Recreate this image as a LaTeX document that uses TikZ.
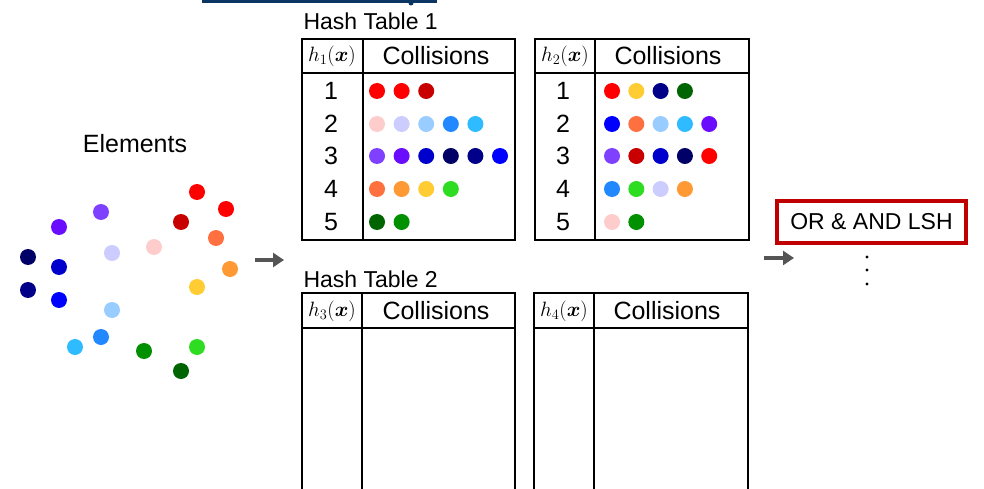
\documentclass[tikz,border=0pt]{standalone}
\usepackage{amsmath}
\usepackage{fontspec}
\setmainfont{Liberation Sans}
\usepackage{xcolor}
\usetikzlibrary{arrows.meta}

% dot colours
\definecolor{cRed}{HTML}{FF0000}
\definecolor{cDarkRed}{HTML}{C80000}
\definecolor{cPink}{HTML}{FFCCCC}
\definecolor{cLavender}{HTML}{CCCCFF}
\definecolor{cLightBlue}{HTML}{99CCFF}
\definecolor{cDodger}{HTML}{2288FF}
\definecolor{cSky}{HTML}{2EBBFF}
\definecolor{cPurple}{HTML}{7F40FF}
\definecolor{cViolet}{HTML}{6A0DFF}
\definecolor{cMedBlue}{HTML}{0000CC}
\definecolor{cNavy}{HTML}{000066}
\definecolor{cNavyB}{HTML}{000088}
\definecolor{cBlue}{HTML}{0000FF}
\definecolor{cCoral}{HTML}{FF7040}
\definecolor{cOrange}{HTML}{FF9933}
\definecolor{cGold}{HTML}{FFCC33}
\definecolor{cLime}{HTML}{2EDD22}
\definecolor{cDkGreen}{HTML}{006400}
\definecolor{cGreen}{HTML}{009000}
\definecolor{boxRed}{HTML}{C00000}
\definecolor{arrowGray}{HTML}{555555}
\definecolor{titleBlue}{HTML}{0B3563}

\tikzset{
    tbl/.style={line width=2pt},
    bigtext/.style={font=\fontsize{23}{23}\selectfont},
    headtext/.style={font=\fontsize{25}{25}\selectfont},
    mathlbl/.style={font=\fontsize{22}{22}\selectfont},
    flow/.style={arrowGray, line width=4pt, -{Triangle[length=11pt, width=14pt]}},
}

\begin{document}
\begin{tikzpicture}[x=1pt, y=-1pt]
    \useasboundingbox (0,0) rectangle (984,489);

    \fill[titleBlue] (202,-3) rectangle (437,3);
    \fill[titleBlue] (411,3) circle (2.5pt);

    % elements
    \node[headtext] (elements) at (135,144) {Elements};
    \foreach \x/\y/\c in {197/192/cRed, 226/209/cRed, 181/222/cDarkRed, 216/238/cCoral,
                          230/269/cOrange, 197/287/cGold, 154/247/cPink, 112/253/cLavender,
                          101/212/cPurple, 59/227/cViolet, 28/257/cNavy, 59/267/cMedBlue,
                          28/290/cNavyB, 59/300/cBlue, 112/310/cLightBlue, 101/337/cDodger,
                          75/347/cSky, 144/351/cGreen, 197/347/cLime, 181/371/cDkGreen}
        \fill[\c] (\x,\y) circle (8pt);

    \coordinate (a1) at (255,260);
    \coordinate (b1) at (284,260);
    \draw[flow] (a1) -- (b1);

    % hash table 1
    \node[bigtext, anchor=west] (ht1) at (300,21) {Hash Table 1};
    \draw[tbl] (302,39) rectangle (515,240);
    \draw[tbl] (302,73) -- (515,73);
    \draw[tbl] (363,39) -- (363,240);
    \node[mathlbl] (h1) at (332,56) {$h_1(\boldsymbol{x})$};
    \node[headtext] (c1) at (436,56) {Collisions};

    \draw[tbl] (535,39) rectangle (749,240);
    \draw[tbl] (535,73) -- (749,73);
    \draw[tbl] (595,39) -- (595,240);
    \node[mathlbl] (h2) at (565,56) {$h_2(\boldsymbol{x})$};
    \node[headtext] (c2) at (668,56) {Collisions};

    \foreach \n/\y in {1/91, 2/124, 3/156, 4/189, 5/222} {
        \node[headtext] (r1\n) at (331,\y) {\n};
        \node[headtext] (r2\n) at (563,\y) {\n};
    }

    \foreach \y/\cols in {91/{cRed,cRed,cDarkRed},
                          124/{cPink,cLavender,cLightBlue,cDodger,cSky},
                          156/{cPurple,cViolet,cMedBlue,cNavy,cNavyB,cBlue},
                          189/{cCoral,cOrange,cGold,cLime},
                          222/{cDkGreen,cGreen}}
        \foreach \c [count=\i from 0] in \cols
            \fill[\c] (377+24.6*\i,\y) circle (8pt);

    \foreach \y/\cols in {91/{cRed,cGold,cNavyB,cDkGreen},
                          124/{cBlue,cCoral,cLightBlue,cSky,cViolet},
                          156/{cPurple,cDarkRed,cMedBlue,cNavy,cRed},
                          189/{cDodger,cLime,cLavender,cOrange},
                          222/{cPink,cGreen}}
        \foreach \c [count=\i from 0] in \cols
            \fill[\c] (612+24.3*\i,\y) circle (8pt);

    % hash table 2
    \node[bigtext, anchor=west] (ht2) at (300,279) {Hash Table 2};
    \draw[tbl] (302,498) -- (302,293) -- (515,293) -- (515,498);
    \draw[tbl] (302,328) -- (515,328);
    \draw[tbl] (362,293) -- (362,498);
    \node[mathlbl] (h3) at (332,311) {$h_3(\boldsymbol{x})$};
    \node[headtext] (c3) at (436,311) {Collisions};

    \draw[tbl] (534,498) -- (534,293) -- (748,293) -- (748,498);
    \draw[tbl] (534,328) -- (748,328);
    \draw[tbl] (594,293) -- (594,498);
    \node[mathlbl] (h4) at (564,311) {$h_4(\boldsymbol{x})$};
    \node[headtext] (c4) at (667,311) {Collisions};

    \coordinate (a2) at (764,258);
    \coordinate (b2) at (794,258);
    \draw[flow] (a2) -- (b2);

    \node[bigtext, draw=boxRed, line width=4pt, minimum width=189pt, minimum height=42pt,
          inner sep=0pt] (orand) at (871.5,222) {OR \& AND LSH};
    \foreach \y in {257,270,284}
        \fill (867,\y) circle (1.7pt);
\end{tikzpicture}
\end{document}
